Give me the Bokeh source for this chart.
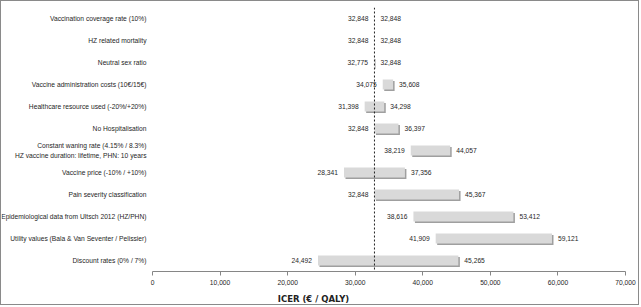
from bokeh.plotting import figure
from bokeh.models import Span, ColumnDataSource, NumeralTickFormatter, FixedTicker
from bokeh.core.properties import value
from bokeh.embed import file_html
from bokeh.resources import INLINE

categories = [
    "Vaccination coverage rate (10%)",
    "HZ related mortality",
    "Neutral sex ratio",
    "Vaccine administration costs (10€/15€)",
    "Healthcare resource used (-20%/+20%)",
    "No Hospitalisation",
    "Constant waning rate (4.15% / 8.3%)\nHZ vaccine duration: lifetime, PHN: 10 years",
    "Vaccine price (-10% / +10%)",
    "Pain severity classification",
    "Epidemiological data from Ultsch 2012 (HZ/PHN)",
    "Utility values (Bala & Van Seventer / Pelissier)",
    "Discount rates (0% / 7%)",
]
low_values = [32848, 32848, 32775, 34075, 31398, 32848, 38219, 28341, 32848, 38616, 41909, 24492]
high_values = [32848, 32848, 32848, 35608, 34298, 36397, 44057, 37356, 45367, 53412, 59121, 45265]
base_case = 32848
x_ticks = [0, 10000, 20000, 30000, 40000, 50000, 60000, 70000]

FONT = "Liberation Sans"
FS = "6.7px"
TXT = "#262626"
n = len(categories)
ys = [n - 0.5 - i for i in range(n)]

W, H = 639, 305
left_px = 151
right_px = 15
frame_w = W - right_px
xmax = 70000
start = -left_px / (frame_w - left_px) * xmax

p = figure(width=W, height=H, output_backend="svg", toolbar_location=None,
           x_range=(start, xmax), y_range=(0, n),
           min_border_left=0, min_border_right=right_px,
           min_border_top=6, min_border_bottom=33)
p.styles = {"border": "1px solid #8a8a8a"}
p.background_fill_color = "white"
p.border_fill_color = "white"
p.outline_line_color = None
p.grid.visible = False
p.yaxis.visible = False

px = (xmax - start) / frame_w
src = ColumnDataSource(dict(
    y=ys,
    low=low_values,
    high=high_values,
    cat=categories,
    lowtxt=[f"{v:,}" for v in low_values],
    hightxt=[f"{v:,}" for v in high_values],
))
shadow = ColumnDataSource(dict(
    y=[v - 0.07 for v in ys],
    low=[v + 1.5 * px for v in low_values],
    high=[v + 1.5 * px for v in high_values],
))

p.hbar(y="y", left="low", right="high", height=0.45, source=shadow,
       fill_color="#9f9f9f", line_color=None)
p.hbar(y="y", left="low", right="high", height=0.45, source=src,
       fill_color="#d9d9d9", line_color=None)

p.add_layout(Span(location=base_case, dimension="height", line_color="#222222",
                  line_width=1, line_dash="2 2"))

p.text(x="low", y="y", text="lowtxt", source=src, x_offset=-6,
       text_align="right", text_baseline="middle", text_font=value(FONT),
       text_font_size=FS, text_color=TXT)
p.text(x="high", y="y", text="hightxt", source=src, x_offset=6,
       text_align="left", text_baseline="middle", text_font=value(FONT),
       text_font_size=FS, text_color=TXT)
p.text(x=0, y="y", text="cat", source=src, x_offset=-6,
       text_align="right", text_baseline="middle", text_font=value(FONT),
       text_font_size=FS, text_color=TXT, text_line_height=1.35)

ax = p.xaxis[0]
ax.bounds = (0, xmax)
ax.ticker = FixedTicker(ticks=x_ticks)
ax.formatter = NumeralTickFormatter(format="0,0")
ax.axis_line_color = "#868686"
ax.major_tick_line_color = "#868686"
ax.major_tick_out = 4
ax.major_tick_in = 0
ax.minor_tick_line_color = None
ax.major_label_text_font = FONT
ax.major_label_text_font_size = FS
ax.major_label_text_color = TXT
ax.major_label_standoff = 4
ax.axis_label = "ICER (€ / QALY)"
ax.axis_label_text_font = "DejaVu Sans"
ax.axis_label_text_font_size = "8.5px"
ax.axis_label_text_font_style = "bold"
ax.axis_label_text_color = "#222222"
ax.axis_label_standoff = 6

open("out.html", "w").write(file_html(p, INLINE))
